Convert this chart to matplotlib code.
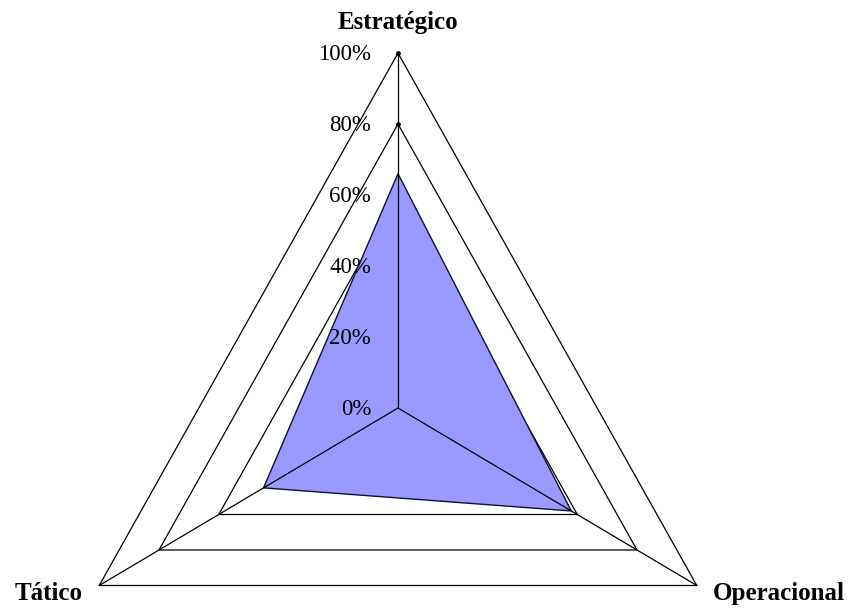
import numpy as np
import matplotlib
matplotlib.use('Agg')
import matplotlib.pyplot as plt

categories = ['Estratégico', 'Operacional', 'Tático']
values = [0.66, 0.58, 0.45]
grid_levels = [0.2, 0.4, 0.6, 0.8, 1.0]
tick_values = [0.0, 0.2, 0.4, 0.6, 0.8, 1.0]
tick_labels = ['0%', '20%', '40%', '60%', '80%', '100%']

W, H = 851, 608
fig = plt.figure(figsize=(W / 100, H / 100), dpi=100)
fig.patch.set_facecolor('white')
cx, cy = 398, 408
rx, ry = 345, 355
ax = fig.add_axes([(cx - rx) / W, (H - cy - ry) / H, 2 * rx / W, 2 * ry / H],
                  projection='polar')
ax.set_aspect('auto')
ax.set_theta_offset(np.pi / 2)
ax.set_theta_direction(-1)
ax.set_ylim(0, 1)
ax.axis('off')

n = len(categories)
theta = np.linspace(0, 2 * np.pi, n, endpoint=False)
theta_closed = np.append(theta, theta[0])

# grid polygons
for g in grid_levels:
    ax.plot(theta_closed, [g] * (n + 1), color='black', lw=0.9, zorder=1, clip_on=False)

# tick marks on value axis (under the fill)
ax.plot([0] * len(tick_values), tick_values, ls='none', marker='o', ms=2.4,
        color='black', zorder=1.5, clip_on=False)

# data polygon
vals_closed = values + [values[0]]
ax.fill(theta_closed, vals_closed, facecolor='#9999FF', edgecolor='#101030',
        lw=1.0, zorder=2, clip_on=False)

# spokes
for t in theta:
    ax.plot([t, t], [0, 1], color='black', lw=0.9, zorder=3, clip_on=False)

serif = ['Liberation Serif', 'DejaVu Serif']
for v, lab in zip(tick_values, tick_labels):
    ax.annotate(lab, xy=(0, v), xytext=(-27, -2), textcoords='offset pixels',
                ha='right', va='center', fontsize=16.5, family=serif, zorder=4)

# category labels
offsets = [((0, 30), 'center', 'center'),
           ((16, -8), 'left', 'center'),
           ((-17, -8), 'right', 'center')]
for t, cat, (off, ha, va) in zip(theta, categories, offsets):
    ax.annotate(cat, xy=(t, 1), xytext=off, textcoords='offset pixels',
                ha=ha, va=va, fontsize=18, fontweight='bold', family=serif, zorder=4)

fig.savefig('out.png', dpi=100, facecolor='white')
